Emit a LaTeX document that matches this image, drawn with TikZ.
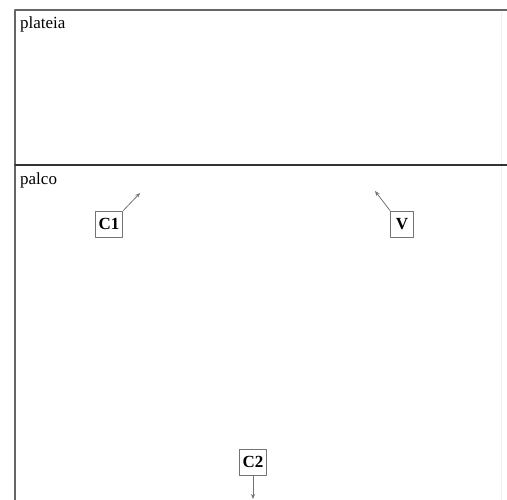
\documentclass[tikz,border=0pt]{standalone}
\usepackage{fontspec}
\setmainfont{Liberation Serif}
\usetikzlibrary{arrows.meta}
\newcommand{\hallfont}{\fontsize{17}{20}\selectfont}
\tikzset{
  every picture/.style={line join=round, line cap=round, >=Stealth},
  wall/.style={line width=1.4pt, black!60},
  faint/.style={line width=1pt, black!6},
  marker/.style={draw=black!55, line width=0.9pt, fill=white, font=\hallfont\bfseries,
    inner xsep=3.5pt, minimum width=23pt, minimum height=26pt},
  look/.style={->, black!55, line width=0.8pt, >={Stealth[length=5pt,width=4pt]}},
  area/.style={anchor=base west, inner sep=0pt, font=\hallfont},
}

\begin{document}
\begin{tikzpicture}[x=1pt,y=-1pt]
\useasboundingbox (0,0) rectangle (507,500);
% hall outline
\draw[faint](501,12)--(501,500);
\draw[wall](507,10)--(15,10)--(15,500);
\draw[wall,black!80](15,165)--(507,165);
\node[area] (plateia) at (20,29) {plateia};
\node[area] (palco) at (20,185) {palco};
% people on stage
\node[marker] (c1) at (109,224) {C1};
\node[marker] (v) at (402,224) {V};
\node[marker] (c2) at (253,462) {C2};
\coordinate (c1to) at (140,193);
\coordinate (vto) at (375,191);
\coordinate (c2to) at (253,499);
\draw[look](c1.north east)--(c1to);
\draw[look](v.north west)--(vto);
\draw[look](c2.south)--(c2to);
\end{tikzpicture}
\end{document}
